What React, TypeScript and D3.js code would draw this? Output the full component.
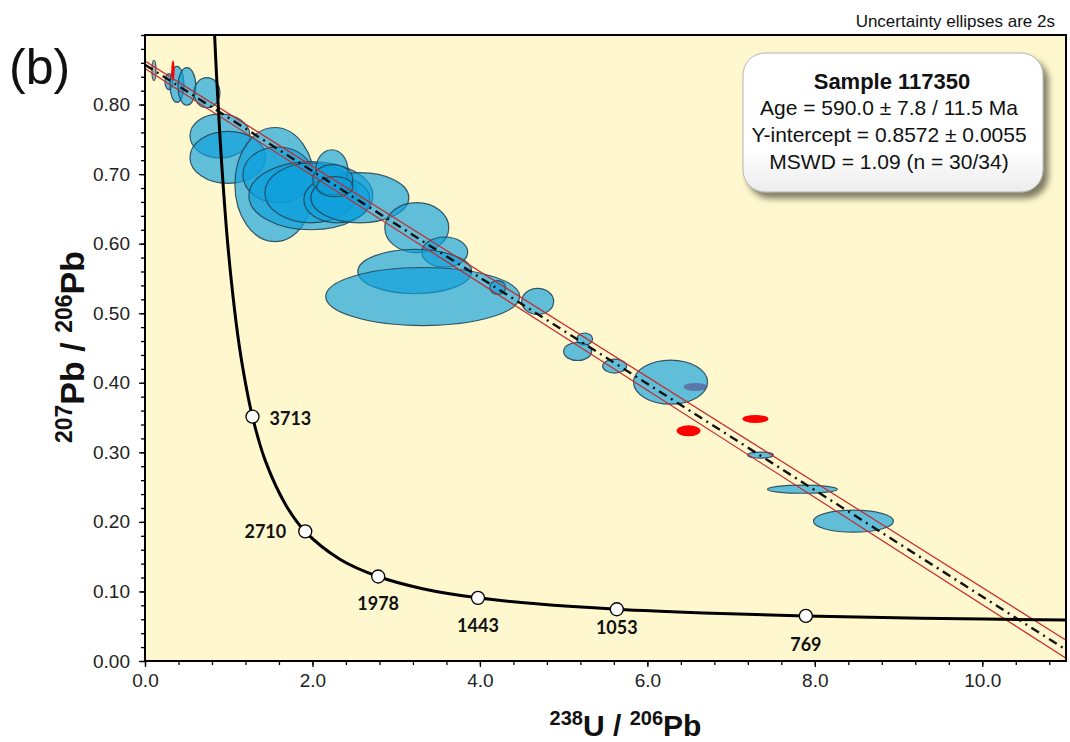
import React, { useEffect, useRef } from 'react';
import * as d3 from 'd3';

const width = 1070;
const height = 742;
const plot = { left: 145, right: 1066, top: 35, bottom: 661 };

// 2s uncertainty ellipses: centre (238U/206Pb, 207Pb/206Pb) and half-axes
const spotX = [0.107, 0.286, 0.382, 0.501, 0.74, 0.895, 0.99, 1.551, 1.587, 1.981, 1.981, 2.291, 2.566, 2.231, 2.243, 2.267,
  3.246, 3.58, 3.222, 3.317, 4.212, 4.69, 5.251, 5.167, 5.609, 6.277, 6.575, 7.351, 7.852, 8.461, 0.334, 6.492, 7.291];
const spotY = [0.849, 0.833, 0.829, 0.826, 0.817, 0.755, 0.724, 0.685, 0.699, 0.669, 0.673, 0.663, 0.666, 0.706, 0.692, 0.682,
  0.623, 0.588, 0.56, 0.524, 0.537, 0.517, 0.463, 0.445, 0.424, 0.401, 0.394, 0.296, 0.247, 0.201, 0.849, 0.331, 0.348];
const spotRx = [0.024, 0.048, 0.084, 0.107, 0.155, 0.358, 0.453, 0.477, 0.418, 0.74, 0.549, 0.394, 0.585, 0.191, 0.239, 0.215,
  0.382, 0.274, 0.68, 1.158, 0.095, 0.191, 0.095, 0.167, 0.143, 0.442, 0.143, 0.155, 0.418, 0.477, 0.02, 0.143, 0.155];
const spotRy = [0.0144, 0.0115, 0.026, 0.027, 0.0216, 0.0317, 0.0374, 0.082, 0.04, 0.049, 0.043, 0.033, 0.036, 0.029, 0.0216, 0.0144,
  0.036, 0.0216, 0.0317, 0.0417, 0.01, 0.0187, 0.0086, 0.013, 0.01, 0.0317, 0.0058, 0.0043, 0.0058, 0.0158, 0.0144, 0.0079, 0.0058];
const spotKind = ['grey', 'blue', 'blue', 'blue', 'blue', 'blue', 'blue', 'blue', 'blue', 'blue', 'blue', 'blue', 'blue', 'blue', 'blue', 'blue',
  'blue', 'blue', 'blue', 'blue', 'blue', 'blue', 'blue', 'blue', 'blue', 'blue', 'purple', 'blue', 'blue', 'blue', 'red', 'red', 'red'];

// concordia curve
const concordiaX = [0.806, 0.829, 0.853, 0.905, 0.99, 1.089, 1.163, 1.284, 1.44, 1.688, 1.914, 2.332, 2.785, 3.315, 3.977, 4.673, 5.635, 6.674, 7.893, 9.275, 11.02];
const concordiaY = [0.974, 0.907, 0.845, 0.735, 0.597, 0.486, 0.425, 0.351, 0.287, 0.223, 0.186, 0.146, 0.1215, 0.104, 0.0908, 0.0822, 0.0744, 0.069, 0.0648, 0.0616, 0.0588];

// age markers on the concordia (Ma)
const markerAge = [3713, 2710, 1978, 1443, 1053, 769];
const markerX = [1.284, 1.914, 2.785, 3.977, 5.635, 7.893];
const markerY = [0.3513, 0.1863, 0.1215, 0.0908, 0.0744, 0.0648];

// regression line and its envelope
const lineX = [0, 11];
const lineY = [0.8572, 0.0163];
const upperY = [0.8627, 0.03];
const lowerY = [0.8517, 0.004];

const legendLines = ['Age = 590.0 ± 7.8 / 11.5 Ma', 'Y-intercept = 0.8572 ± 0.0055', 'MSWD = 1.09  (n = 30/34)'];

// label placement relative to each marker
const labelPlace = [
  { dx: 17, dy: 8, anchor: 'start' },
  { dx: -19, dy: 7, anchor: 'end' },
  { dx: 0, dy: 34, anchor: 'middle' },
  { dx: 0, dy: 34, anchor: 'middle' },
  { dx: 0, dy: 25, anchor: 'middle' },
  { dx: 0, dy: 35, anchor: 'middle' },
];

const fills = { blue: '#0d9fdc', grey: '#8b979c', purple: '#5b5f9c', red: '#ff0000' };

export default function App() {
  const svgRef = useRef<SVGSVGElement>(null);

  useEffect(() => {
    const svg = d3.select(svgRef.current);
    svg.selectAll('*').remove();

    const x = d3.scaleLinear().domain([0, 11]).range([plot.left, plot.right]);
    const y = d3.scaleLinear().domain([0, 0.9]).range([plot.bottom, plot.top]);

    const defs = svg.append('defs');
    defs.append('clipPath').attr('id', 'plotClip')
      .append('rect')
      .attr('x', plot.left).attr('y', plot.top)
      .attr('width', plot.right - plot.left).attr('height', plot.bottom - plot.top);
    const shadow = defs.append('filter').attr('id', 'boxShadow')
      .attr('x', '-10%').attr('y', '-10%').attr('width', '130%').attr('height', '140%');
    shadow.append('feDropShadow')
      .attr('dx', 5).attr('dy', 6).attr('stdDeviation', 3)
      .attr('flood-color', '#4a4630').attr('flood-opacity', 0.7);
    const grad = defs.append('linearGradient').attr('id', 'boxFill')
      .attr('x1', 0).attr('y1', 0).attr('x2', 0).attr('y2', 1);
    grad.append('stop').attr('offset', '0%').attr('stop-color', '#ffffff');
    grad.append('stop').attr('offset', '70%').attr('stop-color', '#ffffff');
    grad.append('stop').attr('offset', '100%').attr('stop-color', '#ececec');

    // plot background
    svg.append('rect')
      .attr('x', plot.left).attr('y', plot.top)
      .attr('width', plot.right - plot.left).attr('height', plot.bottom - plot.top)
      .attr('fill', '#fff8cf');

    const g = svg.append('g').attr('clip-path', 'url(#plotClip)');

    // ellipses
    const idx = d3.range(spotX.length);
    g.selectAll('ellipse.spot')
      .data(idx)
      .join('ellipse')
      .attr('class', 'spot')
      .attr('cx', i => x(spotX[i]))
      .attr('cy', i => y(spotY[i]))
      .attr('rx', i => x(spotX[i] + spotRx[i]) - x(spotX[i]))
      .attr('ry', i => y(spotY[i]) - y(spotY[i] + spotRy[i]))
      .attr('fill', i => fills[spotKind[i]])
      .attr('fill-opacity', i => (spotKind[i] === 'red' ? 1 : spotKind[i] === 'blue' ? 0.66 : 0.75))
      .attr('stroke', i => (spotKind[i] === 'red' || spotKind[i] === 'purple' ? 'none' : '#22475a'))
      .attr('stroke-opacity', 0.9)
      .attr('stroke-width', 1.2);

    // regression envelope and line
    const pts = (ys: number[]) => lineX.map((v, i) => [x(v), y(ys[i])] as [number, number]);
    const line = d3.line();
    g.append('path').attr('d', line(pts(upperY))).attr('stroke', '#c8282a').attr('stroke-width', 1.2).attr('fill', 'none');
    g.append('path').attr('d', line(pts(lowerY))).attr('stroke', '#c8282a').attr('stroke-width', 1.2).attr('fill', 'none');
    g.append('path').attr('d', line(pts(lineY)))
      .attr('stroke', '#111').attr('stroke-width', 2.4).attr('fill', 'none')
      .attr('stroke-dasharray', '9,5,2,5');

    // concordia
    const curve = d3.line<number>()
      .x(i => x(concordiaX[i]))
      .y(i => y(concordiaY[i]))
      .curve(d3.curveCatmullRom.alpha(0.5));
    g.append('path')
      .attr('d', curve(d3.range(concordiaX.length)))
      .attr('fill', 'none').attr('stroke', '#000').attr('stroke-width', 3);

    const markers = d3.range(markerAge.length);
    g.selectAll('circle.age')
      .data(markers)
      .join('circle')
      .attr('class', 'age')
      .attr('cx', i => x(markerX[i]))
      .attr('cy', i => y(markerY[i]))
      .attr('r', 6.5)
      .attr('fill', '#fff').attr('stroke', '#000').attr('stroke-width', 1.3);
    g.selectAll('text.age')
      .data(markers)
      .join('text')
      .attr('class', 'age')
      .attr('x', i => x(markerX[i]) + labelPlace[i].dx)
      .attr('y', i => y(markerY[i]) + labelPlace[i].dy)
      .attr('text-anchor', i => labelPlace[i].anchor)
      .attr('font-family', 'Lato, sans-serif')
      .attr('font-weight', 700)
      .attr('font-size', 18)
      .attr('fill', '#111')
      .text(i => markerAge[i]);

    // frame
    svg.append('rect')
      .attr('x', plot.left).attr('y', plot.top)
      .attr('width', plot.right - plot.left).attr('height', plot.bottom - plot.top)
      .attr('fill', 'none').attr('stroke', '#000').attr('stroke-width', 2);

    // axes
    const font = '"Liberation Sans", Arial, sans-serif';
    const yMinor = d3.range(0, 46).map(i => i * 0.02);
    const yMajor = d3.range(0, 9).map(i => i / 10);
    const xMinor = d3.range(0, 28).map(i => i * 0.4);
    const xMajor = [0, 2, 4, 6, 8, 10];

    const styleAxis = (sel) => {
      sel.select('.domain').remove();
      sel.selectAll('line').attr('stroke', '#000').attr('stroke-width', 1.3);
      sel.selectAll('text').attr('font-family', font).attr('font-size', 19).attr('fill', '#222');
    };
    svg.append('g').attr('transform', `translate(${plot.left},0)`)
      .call(d3.axisLeft(y).tickValues(yMinor).tickSize(4).tickFormat(() => ''))
      .call(styleAxis);
    svg.append('g').attr('transform', `translate(${plot.left},0)`)
      .call(d3.axisLeft(y).tickValues(yMajor).tickSize(6).tickPadding(9).tickFormat(d3.format('.2f')))
      .call(styleAxis);
    svg.append('g').attr('transform', `translate(0,${plot.bottom})`)
      .call(d3.axisBottom(x).tickValues(xMinor).tickSize(4).tickFormat(() => ''))
      .call(styleAxis);
    svg.append('g').attr('transform', `translate(0,${plot.bottom})`)
      .call(d3.axisBottom(x).tickValues(xMajor).tickSize(6).tickPadding(7).tickFormat(d3.format('.1f')))
      .call(styleAxis);

    // axis titles
    const xt = svg.append('text')
      .attr('x', (plot.left + plot.right) / 2 + 20).attr('y', 736)
      .attr('text-anchor', 'middle')
      .attr('font-family', font).attr('font-weight', 700).attr('font-size', 30).attr('fill', '#111');
    xt.append('tspan').attr('font-size', 20).attr('dy', -11).text('238');
    xt.append('tspan').attr('dy', 11).text('U / ');
    xt.append('tspan').attr('font-size', 20).attr('dy', -11).text('206');
    xt.append('tspan').attr('dy', 11).text('Pb');

    const yt = svg.append('text')
      .attr('transform', 'translate(84,347) rotate(-90)')
      .attr('text-anchor', 'middle')
      .attr('font-family', font).attr('font-weight', 700).attr('font-size', 34).attr('fill', '#111');
    yt.append('tspan').attr('font-size', 23).attr('dy', -12).text('207');
    yt.append('tspan').attr('dy', 12).text('Pb / ');
    yt.append('tspan').attr('font-size', 23).attr('dy', -12).text('206');
    yt.append('tspan').attr('dy', 12).text('Pb');

    // panel label and note
    svg.append('text').attr('x', 9).attr('y', 84)
      .attr('font-family', font).attr('font-size', 50).attr('fill', '#111').text('(b)');
    svg.append('text').attr('x', 1055).attr('y', 27).attr('text-anchor', 'end')
      .attr('font-family', font).attr('font-size', 17).attr('fill', '#111').text('Uncertainty ellipses are 2s');

    // legend box
    const box = svg.append('g');
    box.append('rect')
      .attr('x', 743).attr('y', 53).attr('width', 300).attr('height', 139).attr('rx', 22)
      .attr('fill', 'url(#boxFill)').attr('stroke', '#b5b5b5').attr('stroke-width', 1)
      .attr('filter', 'url(#boxShadow)');
    box.append('text').attr('x', 892).attr('y', 89).attr('text-anchor', 'middle')
      .attr('font-family', font).attr('font-weight', 700).attr('font-size', 22).attr('fill', '#111')
      .text('Sample 117350');
    box.selectAll('text.line')
      .data(legendLines)
      .join('text')
      .attr('class', 'line')
      .attr('x', 889)
      .attr('y', (d, i) => 115 + i * 27)
      .attr('text-anchor', 'middle')
      .attr('font-family', font).attr('font-size', 21).attr('fill', '#111')
      .text(d => d);
  }, []);

  return (
    <svg ref={svgRef} width={width} height={height}
      style={{ position: 'absolute', left: 0, top: 0, background: '#fff' }} />
  );
}
